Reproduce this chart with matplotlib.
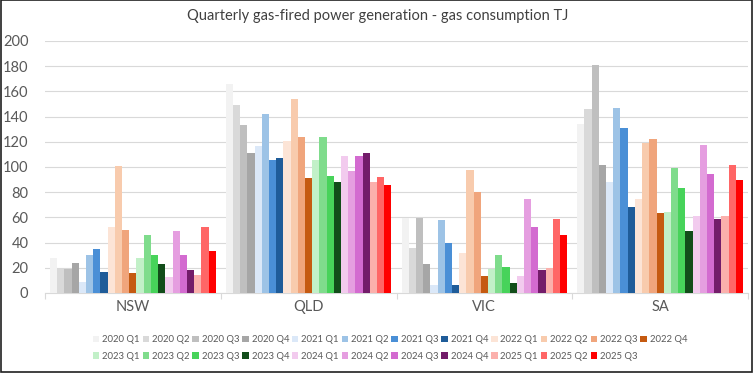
import matplotlib
matplotlib.use("Agg")
import matplotlib.pyplot as plt
from matplotlib.patches import Rectangle
import numpy as np

plt.rcParams['font.family'] = ['Lato', 'DejaVu Sans']

regions = ["NSW", "QLD", "VIC", "SA"]
quarters = ["2020 Q1", "2020 Q2", "2020 Q3", "2020 Q4",
            "2021 Q1", "2021 Q2", "2021 Q3", "2021 Q4",
            "2022 Q1", "2022 Q2", "2022 Q3", "2022 Q4",
            "2023 Q1", "2023 Q2", "2023 Q3", "2023 Q4",
            "2024 Q1", "2024 Q2", "2024 Q3", "2024 Q4",
            "2025 Q1", "2025 Q2", "2025 Q3"]

nsw = [28, 19, 19, 24, 9, 30.5, 35, 17, 52, 101, 50, 16,
       28, 46, 30.5, 23, 12.7, 49.5, 30, 18, 14, 52, 33]
qld = [166, 149, 133, 111, 117, 142, 105.5, 107, 120.5, 154, 124, 91,
       105.7, 124, 92.7, 87.7, 109, 97, 109, 111.5, 87.7, 92.2, 86]
vic = [59.6, 36, 59.6, 23, 6.4, 57.7, 40, 6.4, 31.8, 98, 80.5, 13.8,
       18.8, 30, 20.7, 7.7, 13.8, 74.7, 52, 18, 20, 58.8, 45.8]
sa = [134, 146, 181, 101.7, 87.7, 147, 130.6, 68.6, 74.4, 118.7, 122, 63.8,
      64.6, 99.3, 83.7, 49.3, 61.5, 117.6, 94.8, 58.8, 61.5, 101.7, 89.8]

colors = ["#f2f2f2", "#d9d9d9", "#bfbfbf", "#a6a6a6",
          "#dbe8f8", "#9dc3e6", "#4a8fd6", "#1f5c99",
          "#fce4d6", "#f8cbad", "#f0a57c", "#c55a11",
          "#c2f0c8", "#7fdc8c", "#47d35a", "#124d1a",
          "#f2cbee", "#e59ee0", "#d36bd0", "#731c6a",
          "#fbb0ac", "#ff6666", "#ff0000"]

data = np.array([nsw, qld, vic, sa])  # regions x quarters

fig = plt.figure(figsize=(7.55, 3.73), dpi=100)
ax = fig.add_axes([45/755, 1-293/373, (748-45)/755, (293-41)/373])

n = len(quarters)
w = 0.943 / n
x = np.arange(len(regions))
handles = []
for j in range(n):
    b = ax.bar(x + (j - (n - 1) / 2) * w, data[:, j], width=w,
               color=colors[j], linewidth=0, label=quarters[j], zorder=3)
    handles.append(b)

ax.set_xlim(-0.5, len(regions) - 0.5)
ax.set_ylim(0, 200)
ax.set_yticks(np.arange(0, 201, 20))
ax.grid(axis='y', color='#d9d9d9', linewidth=0.8, zorder=0)
for s in ['top', 'right', 'left']:
    ax.spines[s].set_visible(False)
ax.spines['bottom'].set_color('#d9d9d9')
ax.spines['bottom'].set_linewidth(0.8)

ax.set_xticks(x)
ax.set_xticklabels(regions)
ax.tick_params(axis='x', which='major', length=0, pad=5, labelsize=10.5, colors='#595959')
ax.set_xticks(np.arange(-0.5, len(regions), 1), minor=True)
ax.tick_params(axis='x', which='minor', length=4, color='#d9d9d9', width=0.8)
ax.tick_params(axis='y', length=0, pad=12, labelsize=10.5, colors='#595959')

fig.text(0.5, 1 - 16/373, "Quarterly gas-fired power generation - gas consumption TJ",
         ha='center', va='center', fontsize=10.5, color='#404040')

# legend: row-major order across 2 rows of 12 columns
ncol = 12
order = []
for c in range(ncol):
    order.append(c)
    if c + ncol < n:
        order.append(c + ncol)
leg = fig.legend([handles[i] for i in order], [quarters[i] for i in order],
                 ncol=ncol, loc='center', bbox_to_anchor=(390/755, 1 - 348/373),
                 frameon=False, fontsize=6.8, handlelength=0.7, handleheight=0.7,
                 handletextpad=0.3, columnspacing=0.3, labelspacing=0.8,
                 labelcolor='#595959', borderpad=0)

# figure border
fig.add_artist(Rectangle((0.001, 0.004), 0.995, 0.995, transform=fig.transFigure,
                         fill=False, edgecolor='#202020', linewidth=1.2))

fig.savefig("out.png", dpi=100)
